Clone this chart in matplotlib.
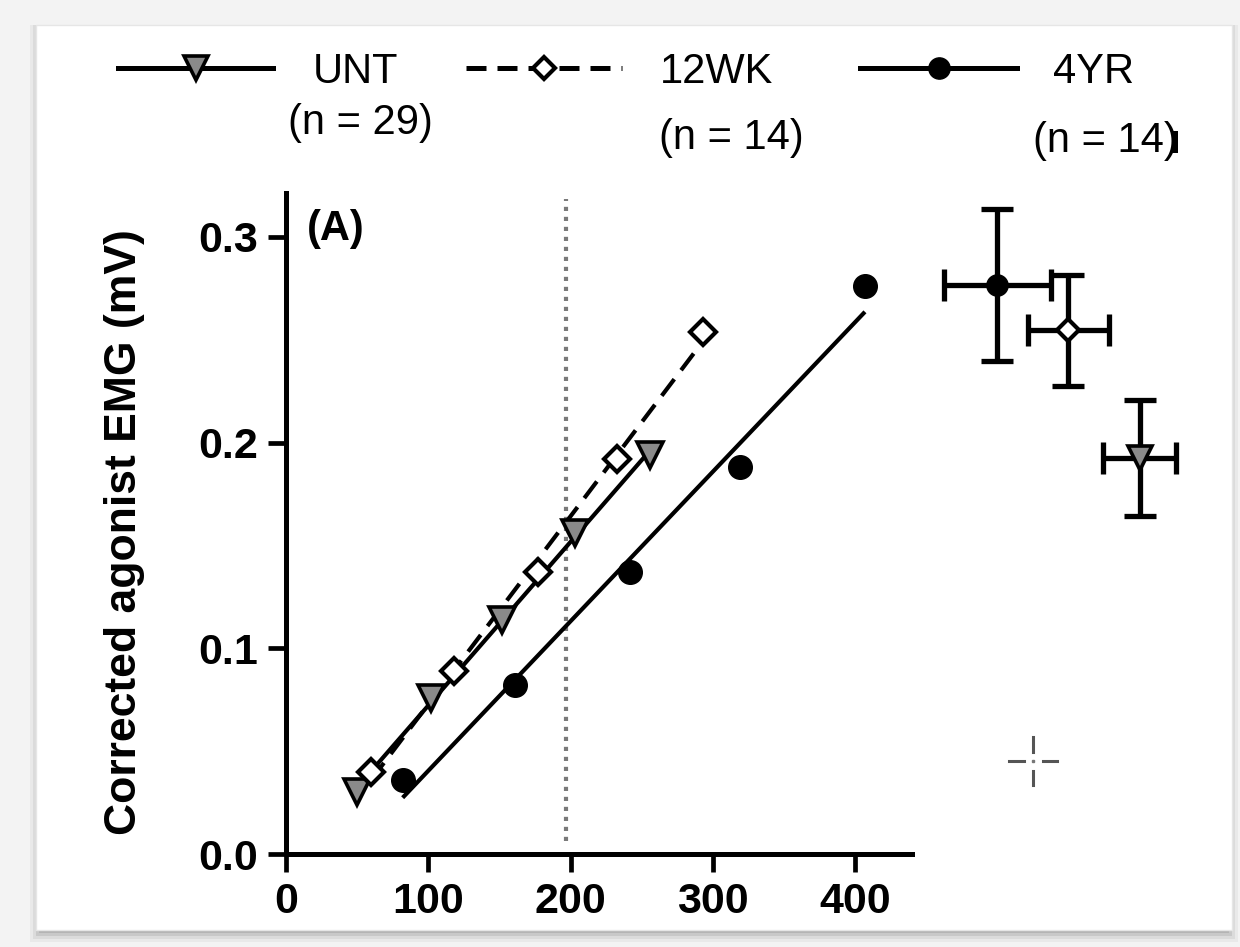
import numpy as np
import matplotlib
matplotlib.use("Agg")
import matplotlib.pyplot as plt
from matplotlib.lines import Line2D
from matplotlib.patches import Rectangle

plt.rcParams['font.family'] = ['Liberation Sans', 'DejaVu Sans']

# ---------------- data ----------------
groups = ["UNT", "12WK", "4YR"]
group_n = ["(n = 29)", "(n = 14)", "(n = 14)"]

unt_x = [50, 102, 152, 203, 256]
unt_y = [0.030, 0.076, 0.114, 0.156, 0.194]

wk12_x = [60, 118, 177, 233, 293]
wk12_y = [0.040, 0.089, 0.137, 0.192, 0.254]

yr4_x = [82, 161, 242, 319, 407]
yr4_y = [0.036, 0.082, 0.137, 0.188, 0.276]

# summary (mean +/- error) points shown to the right of the axis
summary_pos = [600, 550, 500]          # UNT, 12WK, 4YR
summary_y = [0.1925, 0.2547, 0.2766]
summary_yerr = [0.028, 0.027, 0.037]
summary_xerr = [26, 28.6, 37.7]

threshold_x = 197

x_ticks = [0, 100, 200, 300, 400]
x_ticklabels = ["0", "100", "200", "300", "400"]
y_ticks = [0.0, 0.1, 0.2, 0.3]
y_ticklabels = ["0.0", "0.1", "0.2", "0.3"]

# ---------------- figure ----------------
W, H = 1240, 947
fig = plt.figure(figsize=(W / 100, H / 100), dpi=100, facecolor='#f3f3f3')


def fx(x):
    return x / W


def fy(y):
    return 1 - y / H


# screenshot panel with soft shadow
for i, a in enumerate([0.10, 0.08, 0.06, 0.04]):
    off = 3 + i * 3
    fig.add_artist(Rectangle((fx(36 - off + 6), fy(930 + off)),
                             fx(1196 + 2 * off - 12), (905 + off) / H,
                             transform=fig.transFigure, facecolor='k',
                             alpha=a, edgecolor='none', zorder=-3))
fig.add_artist(Rectangle((fx(36), fy(930)), fx(1196), 905 / H,
                         transform=fig.transFigure, facecolor='white',
                         edgecolor='#e6e6e6', lw=1, zorder=-2))

# axes geometry: x=0 at 286 px, 142.25 px / 100 ; y=0 at 854 px, 2057 px / unit
x_max, y_max = 660, 0.33
ax = fig.add_axes([fx(286), fy(854), 660 * 1.4225 / W, 0.33 * 2057 / H])
ax.set_xlim(0, x_max)
ax.set_ylim(0, y_max)
ax.patch.set_alpha(0)

for s in ['top', 'right']:
    ax.spines[s].set_visible(False)
for s in ['left', 'bottom']:
    ax.spines[s].set_linewidth(3.6)
ax.spines['left'].set_bounds(0, 0.3213)
ax.spines['bottom'].set_bounds(0, 440)

ax.set_xticks(x_ticks)
ax.set_xticklabels(x_ticklabels)
ax.set_yticks(y_ticks)
ax.set_yticklabels(y_ticklabels)
ax.tick_params(direction='out', length=13, width=3.4, labelsize=31, pad=7)
for lab in ax.get_xticklabels() + ax.get_yticklabels():
    lab.set_fontweight('bold')

# threshold line
ax.plot([threshold_x, threshold_x], [0.0065, 0.3186], color='#7a7a7a', lw=3,
        ls=(0, (1, 1.4)), zorder=1)

styles = {
    "UNT": dict(marker='v', ms=19, mfc='#8a8a8a', mec='k', mew=2.6, ls='-'),
    "12WK": dict(marker='D', ms=13, mfc='white', mec='k', mew=3.0, ls=(0, (5, 2.7))),
    "4YR": dict(marker='o', ms=17, mfc='k', mec='k', mew=1, ls='-'),
}
series = {"UNT": (unt_x, unt_y), "12WK": (wk12_x, wk12_y), "4YR": (yr4_x, yr4_y)}

for g in ["4YR", "UNT", "12WK"]:
    xs, ys = series[g]
    st = styles[g]
    k, b = np.polyfit(xs, ys, 1)
    xl = np.array([min(xs), max(xs)])
    ax.plot(xl, k * xl + b, color='k', lw=3.0, ls=st['ls'], zorder=2,
            solid_capstyle='butt')
    ax.plot(xs, ys, ls='none', marker=st['marker'], ms=st['ms'], mfc=st['mfc'],
            mec=st['mec'], mew=st['mew'], zorder=3)

# summary points
for i, g in enumerate(groups):
    st = styles[g]
    ax.errorbar(summary_pos[i], summary_y[i], yerr=summary_yerr[i],
                xerr=summary_xerr[i], fmt='none', ecolor='k', elinewidth=3.8,
                capsize=11.5, capthick=3.8, clip_on=False, zorder=4)
    ax.plot(summary_pos[i], summary_y[i], ls='none', marker=st['marker'],
            ms=st['ms'] * 0.9, mfc=st['mfc'], mec=st['mec'], mew=st['mew'],
            clip_on=False, zorder=5)

# panel label
fig.text(fx(307), fy(240), "(A)", fontsize=30, fontweight='bold',
         ha='left', va='baseline')

# y label
fig.text(fx(125), fy(532), "Corrected agonist EMG (mV)", rotation=90,
         fontsize=32, fontweight='bold', ha='center', va='center')

# legend (drawn manually)
leg_line = [(118, 273), (466, 622), (860, 1017)]
leg_text_x = [313, 660, 1053]
leg_n_x = [288, 659, 1033]
leg_n_base = [134, 149, 152]
leg_y = 68
for i, g in enumerate(groups):
    st = styles[g]
    x0, x1 = leg_line[i]
    fig.add_artist(Line2D([fx(x0), fx(x1)], [fy(leg_y)] * 2,
                          transform=fig.transFigure, color='k', lw=3.6,
                          ls=(0, (4, 2.2)) if g == "12WK" else '-'))
    fig.add_artist(Line2D([fx((x0 + x1) / 2)], [fy(leg_y)],
                          transform=fig.transFigure, ls='none',
                          marker=st['marker'], ms=st['ms'] * 0.9,
                          mfc=st['mfc'], mec=st['mec'], mew=st['mew']))
    fig.text(fx(leg_text_x[i]), fy(83), g, fontsize=30, ha='left',
             va='baseline')
    fig.text(fx(leg_n_x[i]), fy(leg_n_base[i]), group_n[i], fontsize=30,
             ha='left', va='baseline')

# bold artefact on the last closing parenthesis
fig.add_artist(Rectangle((fx(1172), fy(153)), fx(6), 22 / H,
                         transform=fig.transFigure, facecolor='k',
                         edgecolor='none'))

# small cursor cross
cx, cy = 1033, 761
for (xa, ya, xb, yb) in [(cx - 24, cy, cx - 9, cy), (cx + 10, cy, cx + 24, cy),
                         (cx, cy - 24, cx, cy - 9), (cx, cy + 10, cx, cy + 24)]:
    fig.add_artist(Line2D([fx(xa), fx(xb)], [fy(ya), fy(yb)],
                          transform=fig.transFigure, color='#555555', lw=2.2))
fig.add_artist(Line2D([fx(cx)], [fy(cy)], transform=fig.transFigure,
                      ls='none', marker='s', ms=1.5, color='#777777'))

fig.savefig("out.png", dpi=100, facecolor=fig.get_facecolor())
